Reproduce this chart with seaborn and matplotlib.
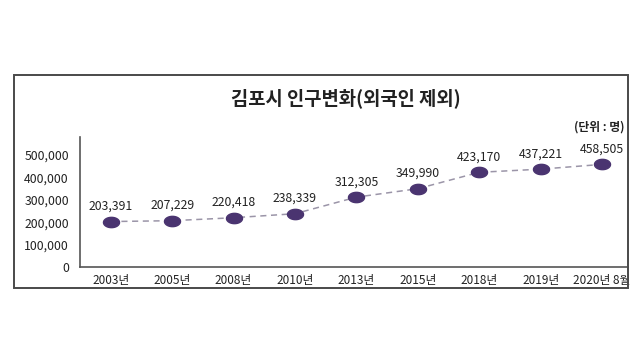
import numpy as np
import pandas as pd
import matplotlib
matplotlib.use('Agg')
import matplotlib.pyplot as plt
from matplotlib.path import Path
from matplotlib.patches import Rectangle
import seaborn as sns

years = ['2003년', '2005년', '2008년', '2010년', '2013년', '2015년', '2018년', '2019년', '2020년 8월']
population = [203391, 207229, 220418, 238339, 312305, 349990, 423170, 437221, 458505]
y_ticks = [0, 100000, 200000, 300000, 400000, 500000]

sns.set_style('white')
plt.rcParams['font.family'] = ['Noto Sans CJK KR', 'DejaVu Sans']

df = pd.DataFrame({'year': years, 'pop': population})
df['idx'] = np.arange(len(df))

# wide ellipse marker, like the squashed original
t = np.linspace(0, 2 * np.pi, 60)
ellipse = Path(np.column_stack([1.55 * np.cos(t), np.sin(t)]), closed=True)

fig = plt.figure(figsize=(6.4, 3.6), dpi=100)
fig.patches.append(Rectangle((0.022, 0.2), 0.959, 0.592, transform=fig.transFigure,
                             fill=False, edgecolor='#4a4a4a', linewidth=1.4))
ax = fig.add_axes([0.125, 0.258, 0.856, 0.361])

sns.lineplot(data=df, x='idx', y='pop', ax=ax, color='#9b95a8',
             linestyle=(0, (4, 3)), linewidth=1.1)
sns.scatterplot(data=df, x='idx', y='pop', ax=ax, marker=ellipse, s=135,
                color='#4a3470', edgecolor='#4a3470', zorder=3)

for i, v in enumerate(population):
    ax.annotate(f'{v:,}', (i, v), xytext=(0, 11), textcoords='offset points',
                ha='center', va='center', fontsize=8.8, color='#222222')

ax.set_xlim(-0.5, 8.42)
ax.set_ylim(0, 580000)
ax.set_xticks(df['idx'])
ax.set_xticklabels(years, fontsize=8.5, color='#222222')
ax.set_yticks(y_ticks)
ax.set_yticklabels([f'{v:,}' for v in y_ticks], fontsize=8.8, color='#222222')
ax.tick_params(axis='y', length=0, pad=8)
ax.tick_params(axis='x', length=0, pad=5)
ax.set_xlabel('')
ax.set_ylabel('')
for s in ['top', 'right']:
    ax.spines[s].set_visible(False)
for s in ['left', 'bottom']:
    ax.spines[s].set_color('#555555')
    ax.spines[s].set_linewidth(1.2)

fig.text(0.54, 0.728, '김포시 인구변화(외국인 제외)', ha='center', va='center',
         fontsize=13.5, fontweight='bold', color='#222222')
fig.text(0.976, 0.648, '(단위 : 명)', ha='right', va='center',
         fontsize=8.5, fontweight='bold', color='#222222')

fig.savefig('out.png', dpi=100)
